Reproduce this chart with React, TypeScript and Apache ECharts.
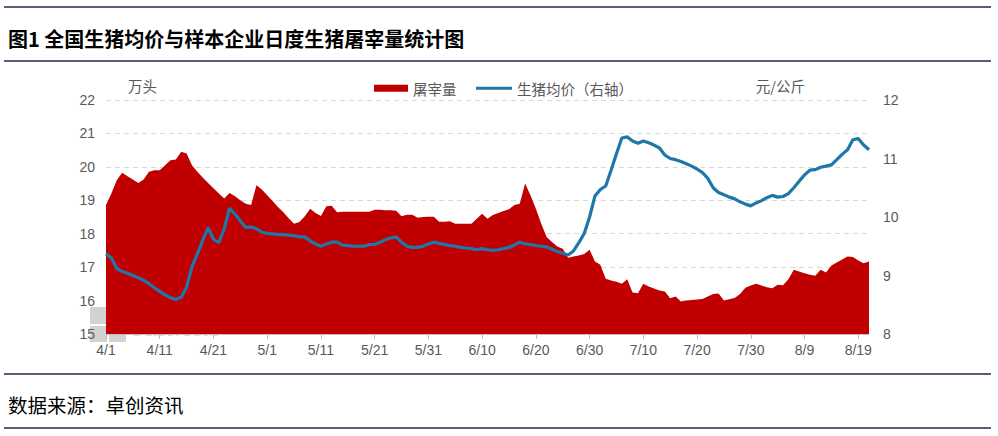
import React, { useEffect, useRef } from "react";
import * as echarts from "echarts";

const dates: string[] = [
  "4/1","4/2","4/3","4/4","4/5","4/6","4/7","4/8","4/9","4/10",
  "4/11","4/12","4/13","4/14","4/15","4/16","4/17","4/18","4/19","4/20",
  "4/21","4/22","4/23","4/24","4/25","4/26","4/27","4/28","4/29","4/30",
  "5/1","5/2","5/3","5/4","5/5","5/6","5/7","5/8","5/9","5/10",
  "5/11","5/12","5/13","5/14","5/15","5/16","5/17","5/18","5/19","5/20",
  "5/21","5/22","5/23","5/24","5/25","5/26","5/27","5/28","5/29","5/30","5/31",
  "6/1","6/2","6/3","6/4","6/5","6/6","6/7","6/8","6/9","6/10",
  "6/11","6/12","6/13","6/14","6/15","6/16","6/17","6/18","6/19","6/20",
  "6/21","6/22","6/23","6/24","6/25","6/26","6/27","6/28","6/29","6/30",
  "7/1","7/2","7/3","7/4","7/5","7/6","7/7","7/8","7/9","7/10",
  "7/11","7/12","7/13","7/14","7/15","7/16","7/17","7/18","7/19","7/20",
  "7/21","7/22","7/23","7/24","7/25","7/26","7/27","7/28","7/29","7/30","7/31",
  "8/1","8/2","8/3","8/4","8/5","8/6","8/7","8/8","8/9","8/10",
  "8/11","8/12","8/13","8/14","8/15","8/16","8/17","8/18","8/19","8/20","8/21"
];

// 屠宰量 (万头), left axis
const slaughter: number[] = [
  18.86,19.2,19.6,19.82,19.72,19.62,19.52,19.62,19.85,19.9,
  19.9,20.05,20.2,20.22,20.45,20.4,20.05,19.85,19.68,19.52,
  19.36,19.2,19.05,19.22,19.12,19.0,18.9,18.86,19.45,19.32,
  19.15,18.98,18.8,18.64,18.46,18.3,18.35,18.52,18.75,18.62,
  18.53,18.82,18.84,18.64,18.66,18.66,18.66,18.66,18.66,18.66,
  18.72,18.72,18.7,18.7,18.69,18.52,18.57,18.57,18.48,18.5,18.51,
  18.51,18.36,18.36,18.37,18.3,18.3,18.3,18.3,18.45,18.6,
  18.45,18.56,18.62,18.68,18.73,18.86,18.9,19.5,19.15,18.75,
  18.3,17.9,17.75,17.62,17.55,17.28,17.32,17.35,17.39,17.52,
  17.17,17.07,16.65,16.6,16.56,16.5,16.64,16.24,16.22,16.5,
  16.42,16.36,16.3,16.27,16.07,16.12,15.97,16.0,16.02,16.03,
  16.05,16.12,16.2,16.21,16.0,16.04,16.08,16.2,16.38,16.45,16.5,
  16.45,16.4,16.37,16.47,16.46,16.64,16.92,16.87,16.82,16.77,
  16.74,16.92,16.84,17.05,17.14,17.23,17.32,17.3,17.2,17.12,17.17
];

// 生猪均价 (元/公斤), right axis
const price: number[] = [
  9.37,9.3,9.12,9.07,9.04,9.0,8.96,8.92,8.86,8.79,
  8.73,8.67,8.62,8.59,8.63,8.8,9.15,9.37,9.6,9.82,
  9.62,9.56,9.8,10.15,10.05,9.93,9.82,9.83,9.8,9.74,
  9.72,9.71,9.7,9.7,9.69,9.68,9.66,9.66,9.59,9.54,
  9.5,9.54,9.57,9.57,9.52,9.51,9.5,9.5,9.5,9.53,
  9.53,9.57,9.61,9.64,9.66,9.57,9.5,9.48,9.48,9.5,9.54,
  9.57,9.55,9.53,9.51,9.5,9.48,9.47,9.46,9.44,9.46,
  9.44,9.43,9.44,9.46,9.48,9.52,9.57,9.54,9.53,9.51,
  9.5,9.49,9.45,9.41,9.38,9.35,9.42,9.56,9.72,10.0,
  10.36,10.47,10.53,10.8,11.08,11.35,11.37,11.3,11.26,11.3,
  11.27,11.23,11.18,11.06,11.0,10.98,10.95,10.91,10.87,10.82,
  10.76,10.66,10.5,10.42,10.38,10.34,10.31,10.26,10.22,10.19,10.24,
  10.28,10.33,10.37,10.34,10.35,10.4,10.5,10.61,10.72,10.8,
  10.81,10.85,10.87,10.89,10.98,11.07,11.15,11.32,11.34,11.23,11.15
];

const titleText = "图1 全国生猪均价与样本企业日度生猪屠宰量统计图";
const sourceText = "数据来源：卓创资讯";
const seriesNames = ["屠宰量", "生猪均价（右轴）"];
const leftUnit = "万头";
const rightUnit = "元/公斤";

const CJK = "'Noto Sans CJK SC', 'Noto Sans', sans-serif";
const NUM = "'Liberation Sans', Arial, sans-serif";
const GRAY = "#595959";
const RED = "#c00000";
const BLUE = "#1f77a6";
const RULE = "#1e2a45";

export default function App() {
  const ref = useRef<HTMLDivElement>(null);
  useEffect(() => {
    if (!ref.current) return;
    const chart = echarts.init(ref.current, undefined, { renderer: "svg" });
    const ruleLine = (y: number) => ({
      type: "line",
      shape: { x1: 4, y1: y, x2: 991, y2: y },
      style: { stroke: RULE, lineWidth: 1.5 },
      silent: true,
    });
    chart.setOption({
      animation: false,
      backgroundColor: "#fff",
      title: [
        {
          text: titleText,
          left: 3,
          top: 23,
          textStyle: { fontSize: 20, fontWeight: "bold", color: "#000", fontFamily: CJK },
        },
        {
          text: sourceText,
          left: 3,
          top: 390,
          textStyle: { fontSize: 19.5, fontWeight: "normal", color: "#000", fontFamily: CJK },
        },
      ],
      legend: [
        {
          data: [seriesNames[0]],
          left: 369,
          top: 76,
          icon: "rect",
          itemWidth: 34,
          itemHeight: 7,
          textStyle: { fontSize: 14.5, color: GRAY, fontFamily: CJK },
        },
        {
          data: [seriesNames[1]],
          left: 471,
          top: 76,
          icon: "rect",
          itemWidth: 36,
          itemHeight: 3,
          textStyle: { fontSize: 14.5, color: GRAY, fontFamily: CJK },
        },
      ],
      grid: { left: 106, right: 129, top: 100, bottom: 102 },
      xAxis: {
        type: "category",
        data: dates,
        boundaryGap: false,
        axisLine: { lineStyle: { color: "#bfbfbf", width: 1 } },
        axisTick: { show: true, interval: 9, length: 5, lineStyle: { color: "#bfbfbf" } },
        axisLabel: { interval: 9, color: GRAY, fontSize: 14, fontFamily: NUM, margin: 9 },
        splitLine: { show: false },
      },
      yAxis: [
        {
          type: "value",
          min: 15,
          max: 22,
          interval: 1,
          name: leftUnit,
          nameLocation: "end",
          nameGap: 7,
          nameTextStyle: { color: GRAY, fontSize: 14.5, fontFamily: CJK, align: "left", padding: [0, 0, 0, 22] },
          axisLine: { show: false },
          axisTick: { show: false },
          axisLabel: { color: GRAY, fontSize: 14, fontFamily: NUM, margin: 11 },
          splitLine: { show: true, lineStyle: { color: "#d9d9d9", type: [5, 4], width: 1 } },
        },
        {
          type: "value",
          min: 8,
          max: 12,
          interval: 1,
          position: "right",
          name: rightUnit,
          nameLocation: "end",
          nameGap: 7,
          nameTextStyle: { color: GRAY, fontSize: 14.5, fontFamily: CJK, align: "right", padding: [0, 64, 0, 0] },
          axisLine: { show: false },
          axisTick: { show: false },
          axisLabel: { color: GRAY, fontSize: 14, fontFamily: NUM, margin: 14 },
          splitLine: { show: false },
        },
      ],
      graphic: [
        ruleLine(7),
        ruleLine(61),
        ruleLine(374),
        ruleLine(428),
        { type: "rect", z: -1, shape: { x: 90, y: 307, width: 17, height: 17 }, style: { fill: "#d2d2d2" }, silent: true },
        { type: "rect", z: -1, shape: { x: 109, y: 307, width: 17, height: 17 }, style: { fill: "#d2d2d2" }, silent: true },
        { type: "rect", z: -1, shape: { x: 90, y: 326, width: 17, height: 16 }, style: { fill: "#d2d2d2" }, silent: true },
        { type: "rect", z: -1, shape: { x: 109, y: 326, width: 17, height: 16 }, style: { fill: "#d2d2d2" }, silent: true },
        {
          type: "text",
          z: -1,
          left: 132,
          top: 322,
          silent: true,
          style: { text: "SCI99.COM", fontSize: 17, fontFamily: "'Liberation Serif', serif", fill: "#d6d6d6" },
        },
      ],
      series: [
        {
          name: seriesNames[0],
          type: "line",
          yAxisIndex: 0,
          data: slaughter,
          symbol: "none",
          color: RED,
          lineStyle: { width: 0, color: RED },
          areaStyle: { color: RED, opacity: 1 },
          z: 2,
        },
        {
          name: seriesNames[1],
          type: "line",
          yAxisIndex: 1,
          data: price,
          symbol: "none",
          color: BLUE,
          lineStyle: { width: 3.2, color: BLUE },
          z: 3,
        },
      ],
    });
    return () => chart.dispose();
  }, []);
  return (
    <div
      ref={ref}
      style={{ position: "absolute", left: 0, top: 0, width: 998, height: 436 }}
    />
  );
}
